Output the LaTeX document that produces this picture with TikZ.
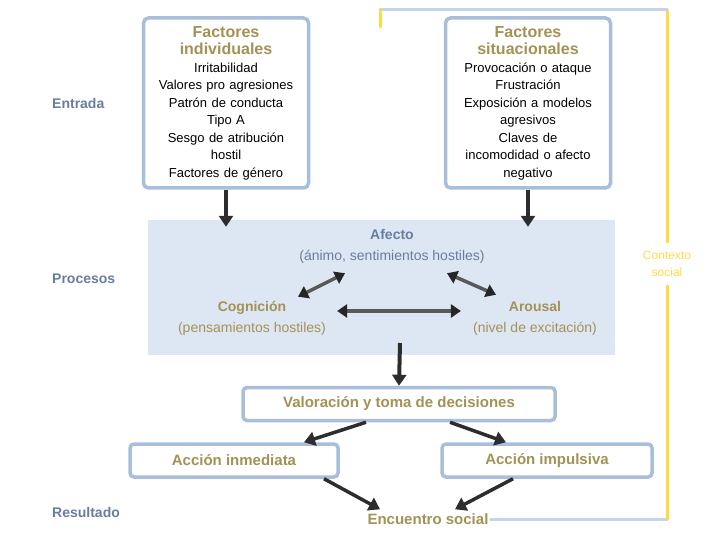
\documentclass[tikz,border=0pt]{standalone}
\usepackage{fontspec}
\setmainfont{Liberation Sans}
\usepackage{tikz}
\usetikzlibrary{arrows.meta}
\definecolor{boxblue}{RGB}{168,190,218}
\definecolor{procblue}{RGB}{221,231,243}
\definecolor{olivetxt}{RGB}{163,146,86}
\definecolor{slatetxt}{RGB}{105,125,158}
\definecolor{loopyellow}{RGB}{255,218,70}
\definecolor{loopblue}{RGB}{196,213,235}
\definecolor{arrowdark}{RGB}{45,45,45}
\newcommand{\boxtitle}[1]{{\fontsize{16}{17.5}\selectfont\bfseries\color{olivetxt}#1}}

\begin{document}
\begin{tikzpicture}[x=1pt, y=-1pt,
  every node/.style={font=\fontsize{13}{17.5}\selectfont, inner sep=2pt},
  factorbox/.style={draw=boxblue, line width=3.5pt, rounded corners=5pt, fill=white, align=center, text width=160pt, minimum width=165pt, minimum height=170pt},
  actbox/.style={draw=boxblue, line width=3.5pt, rounded corners=4pt, fill=white, minimum height=33pt, font=\fontsize{15}{18}\selectfont\bfseries, text=olivetxt},
  stagelbl/.style={anchor=west, font=\fontsize{14}{16}\selectfont\bfseries, text=slatetxt},
  proctxt/.style={align=center, font=\fontsize{14}{21}\selectfont},
  bigarrow/.style={line width=4pt, draw=arrowdark, -{Triangle[length=11pt,width=14pt]}},
  linkarrow/.style={line width=3.5pt, draw=gray!70!black, {Triangle[length=10pt,width=13pt,color=black!85]}-{Triangle[length=10pt,width=13pt,color=black!85]}},
  loopline/.style={line width=3pt, line cap=round}]
  \useasboundingbox (0,0) rectangle (720,540);
  \node[stagelbl] (entrada) at (50,103) {Entrada};
  \node[stagelbl] (procesos) at (50,279) {Procesos};
  \node[stagelbl] (resultado) at (50,512) {Resultado};
  \node[factorbox] (indiv) at (226,103) {\boxtitle{Factores}\\ \boxtitle{individuales}\\ Irritabilidad\\ Valores pro agresiones\\ Patrón de conducta\\ Tipo A\\ Sesgo de atribución\\ hostil\\ Factores de género};
  \node[factorbox] (situ) at (528,103) {\boxtitle{Factores}\\ \boxtitle{situacionales}\\ Provocación o ataque\\ Frustración\\ Exposición a modelos\\ agresivos\\ Claves de\\ incomodidad o afecto\\ negativo};
  \node[fill=procblue, minimum width=467pt, minimum height=135pt] (proc) at (381.5,287.5) {};
  \node[proctxt, text=slatetxt] (afecto) at (392,246) {{\bfseries Afecto}\\ (ánimo, sentimientos hostiles)};
  \node[proctxt, text=olivetxt] (cog) at (252,318) {{\bfseries Cognición}\\ (pensamientos hostiles)};
  \node[proctxt, text=olivetxt] (arousal) at (535,318) {{\bfseries Arousal}\\ (nivel de excitación)};
  \draw[bigarrow] (indiv.south) -- (indiv.south |- afecto.north);
  \draw[bigarrow] (situ.south) -- (situ.south |- afecto.north);
  \draw[linkarrow] ([xshift=46pt,yshift=2pt]cog.north) -- ([xshift=-47pt,yshift=-8pt]afecto.south);
  \draw[linkarrow] ([xshift=55pt,yshift=-8pt]afecto.south) -- ([xshift=-39pt,yshift=4pt]arousal.north);
  \draw[linkarrow] ([xshift=9pt,yshift=7pt]cog.east) -- ([xshift=-10pt,yshift=7pt]arousal.west);
  \node[actbox, minimum width=312pt] (valor) at (399,404) {Valoración y toma de decisiones};
  \node[actbox, minimum width=208pt] (inmed) at (234,460.5) {Acción inmediata};
  \node[actbox, minimum width=210pt] (impuls) at (547,460.5) {Acción impulsiva};
  \node[font=\fontsize{15}{18}\selectfont\bfseries, text=olivetxt] (encuentro) at (428,519) {Encuentro social};
  \coordinate (procout) at (400,343);
  \draw[bigarrow] (procout) -- (valor.north);
  \draw[bigarrow, line width=3.5pt] ([xshift=-33pt]valor.south) -- ([xshift=70pt]inmed.north);
  \draw[bigarrow, line width=3.5pt] ([xshift=51pt]valor.south) -- ([xshift=-41pt]impuls.north);
  \draw[bigarrow, line width=3.5pt] ([xshift=90pt]inmed.south) -- ([xshift=-48pt,yshift=2pt]encuentro.north);
  \draw[bigarrow, line width=3.5pt] ([xshift=-34pt]impuls.south) -- ([xshift=27pt,yshift=2pt]encuentro.north);
  \node[align=center, font=\fontsize{12}{17}\selectfont, text=loopyellow, inner ysep=9pt] (ctx) at (667,264) {Contexto\\ social};
  \coordinate (loopbr) at (667,519);
  \coordinate (looptr) at (667,10);
  \coordinate (looptl) at (380,10);
  \coordinate (loopend) at (380,27);
  \draw[loopline, loopblue] (encuentro.east) -- (loopbr);
  \draw[loopline, loopyellow] (loopbr) -- (ctx.south);
  \draw[loopline, loopyellow] (ctx.north) -- (looptr);
  \draw[loopline, loopblue] (looptr) -- (looptl);
  \draw[loopline, loopyellow] (looptl) -- (loopend);
\end{tikzpicture}
\end{document}
